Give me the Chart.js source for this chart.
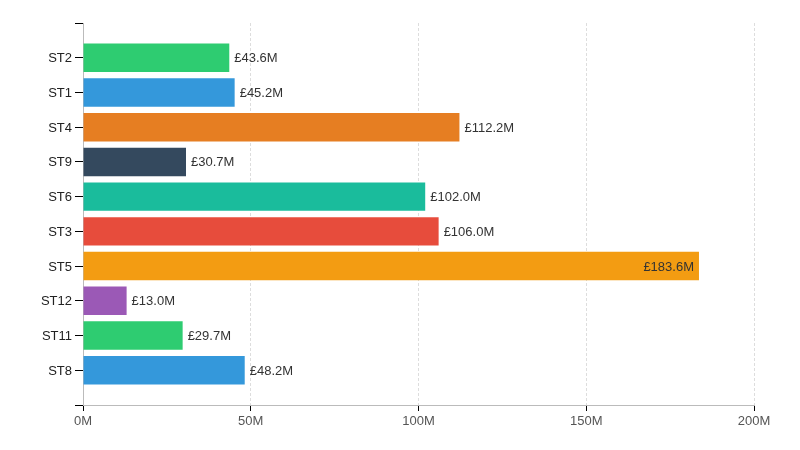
<!DOCTYPE html>
<html>
<head>
<meta charset="utf-8">
<script src="https://cdn.jsdelivr.net/npm/chart.js@4/dist/chart.umd.min.js"></script>
<style>
html,body{margin:0;padding:0;background:#fff;}
#wrap{width:800px;height:450px;}
</style>
</head>
<body>
<div id="wrap"><canvas id="c" width="800" height="450"></canvas></div>
<script>
const categories = ['ST2','ST1','ST4','ST9','ST6','ST3','ST5','ST12','ST11','ST8'];
const valuesM = [43.6, 45.2, 112.2, 30.7, 102.0, 106.0, 183.6, 13.0, 29.7, 48.2];
const barColors = ['#2ecc71','#3498db','#e67e22','#34495e','#1abc9c','#e74c3c','#f39c12','#9b59b6','#2ecc71','#3498db'];
const xTicksM = [0, 50, 100, 150, 200];

const FONT = 'Liberation Sans, Arial, sans-serif';

const valueLabels = {
  id: 'valueLabels',
  afterDatasetsDraw(chart) {
    const ctx = chart.ctx;
    const meta = chart.getDatasetMeta(0);
    const area = chart.chartArea;
    ctx.save();
    ctx.font = '13px ' + FONT;
    ctx.fillStyle = '#333';
    ctx.textBaseline = 'middle';
    meta.data.forEach((bar, i) => {
      const txt = '£' + valuesM[i].toFixed(1) + 'M';
      const w = ctx.measureText(txt).width;
      if (bar.x + 5 + w + 10 > area.right) {
        ctx.textAlign = 'right';
        ctx.fillText(txt, bar.x - 5, bar.y + 1);
      } else {
        ctx.textAlign = 'left';
        ctx.fillText(txt, bar.x + 5, bar.y + 1);
      }
    });
    ctx.restore();
  }
};

new Chart(document.getElementById('c'), {
  type: 'bar',
  data: {
    datasets: [{
      data: valuesM.map((v, i) => ({ x: v * 1e6, y: i })),
      backgroundColor: barColors,
      borderWidth: 0,
      categoryPercentage: 1,
      barPercentage: 0.82
    }]
  },
  options: {
    indexAxis: 'y',
    responsive: false,
    animation: false,
    layout: { padding: { top: 23, right: 46, bottom: 0, left: 0 } },
    plugins: { legend: { display: false }, tooltip: { enabled: false } },
    scales: {
      x: {
        type: 'linear',
        position: 'bottom',
        min: 0,
        max: xTicksM[xTicksM.length - 1] * 1e6,
        afterBuildTicks(scale) { scale.ticks = xTicksM.map(v => ({ value: v * 1e6 })); },
        afterFit(scale) { scale.height = 45; },
        ticks: {
          callback: (v) => (v / 1e6) + 'M',
          color: '#555',
          font: { family: FONT, size: 13 },
          padding: 3,
          maxRotation: 0
        },
        grid: {
          color: (c) => c.tick && c.tick.value === 0 ? 'rgba(0,0,0,0)' : '#dddddd',
          lineWidth: 1,
          drawOnChartArea: true,
          drawTicks: true,
          tickLength: 6,
          tickColor: '#000',
          tickBorderDash: []
        },
        border: { display: true, color: '#bbbbbb', width: 1, dash: [3, 2] }
      },
      y: {
        type: 'linear',
        reverse: true,
        offset: false,
        min: -1,
        max: categories.length,
        afterBuildTicks(scale) {
          const t = [];
          for (let i = -1; i <= categories.length; i++) t.push({ value: i });
          scale.ticks = t;
        },
        afterFit(scale) { scale.width = 83; },
        ticks: {
          callback: (v) => (categories[v] !== undefined ? categories[v] : ''),
          color: '#222',
          font: { family: FONT, size: 13 },
          padding: 3,
          labelOffset: 1,
          autoSkip: false
        },
        grid: {
          offset: false,
          drawOnChartArea: false,
          drawTicks: true,
          tickLength: 8,
          tickColor: '#000'
        },
        border: { display: true, color: '#bbbbbb', width: 1 }
      }
    }
  },
  plugins: [valueLabels]
});
</script>
</body>
</html>
